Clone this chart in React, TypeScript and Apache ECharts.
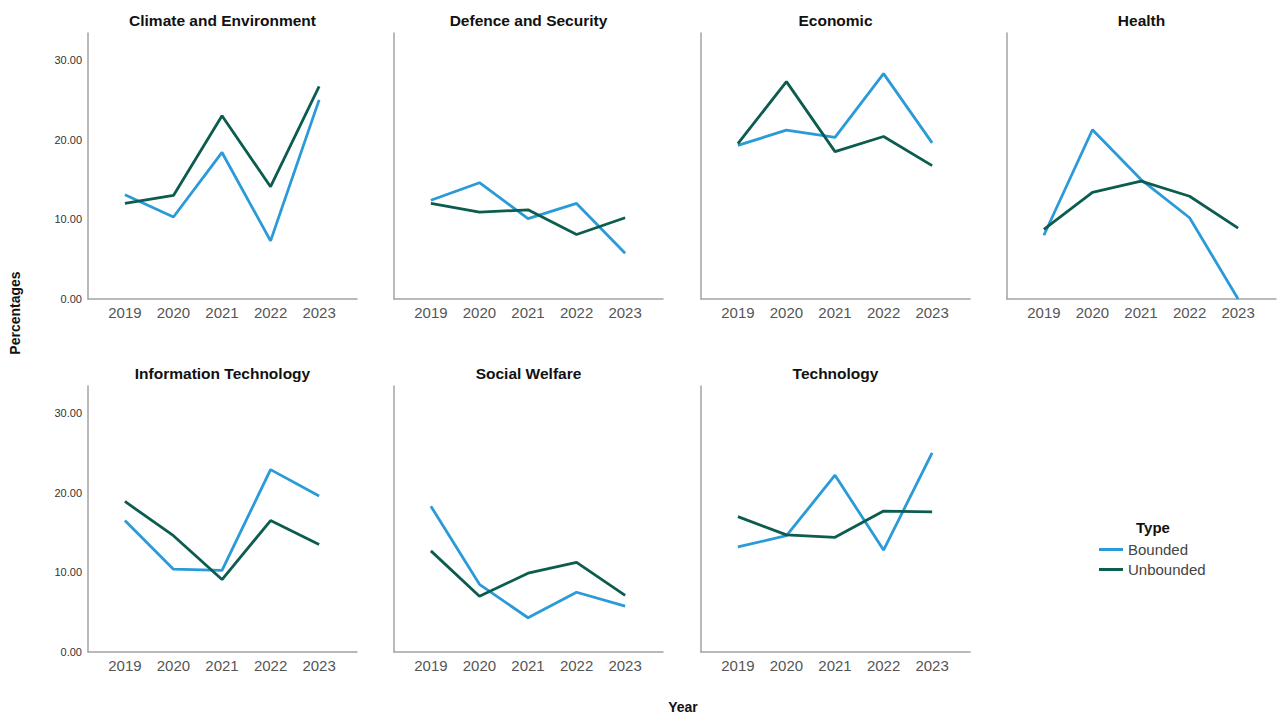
import React, { useEffect, useRef } from "react";
import * as echarts from "echarts";

const years = [2019, 2020, 2021, 2022, 2023];
const panelTitles = [
  "Climate and Environment",
  "Defence and Security",
  "Economic",
  "Health",
  "Information Technology",
  "Social Welfare",
  "Technology",
];
const bounded = [
  [13.1, 10.3, 18.4, 7.3, 25.0],
  [12.4, 14.6, 10.1, 12.0, 5.75],
  [19.3, 21.2, 20.3, 28.3, 19.6],
  [8.0, 21.25, 15.0, 10.2, 0.0],
  [16.5, 10.4, 10.25, 22.9, 19.6],
  [18.3, 8.5, 4.3, 7.5, 5.75],
  [13.2, 14.6, 22.2, 12.8, 25.0],
];
const unbounded = [
  [12.0, 13.0, 23.0, 14.1, 26.7],
  [12.0, 10.9, 11.2, 8.1, 10.2],
  [19.5, 27.3, 18.5, 20.4, 16.75],
  [8.75, 13.4, 14.8, 12.9, 8.9],
  [18.9, 14.6, 9.1, 16.5, 13.5],
  [12.7, 7.0, 9.9, 11.25, 7.1],
  [17.0, 14.7, 14.4, 17.7, 17.6],
];
const yTicks = [0, 10, 20, 30];
const seriesNames = ["Bounded", "Unbounded"];

const BLUE = "#2a9ad9";
const GREEN = "#0c5c4f";
const AXIS = "#a3a3a3";
const FONT = "Liberation Sans, Arial, sans-serif";

export default function App() {
  const ref = useRef<HTMLDivElement>(null);
  useEffect(() => {
    if (!ref.current) return;
    const chart = echarts.init(ref.current, undefined, { renderer: "svg" });
    const lefts = [88, 394, 701, 1007];
    const tops = [33, 386];
    const W = 269;
    const H = 266;
    const grids: any[] = [];
    const xAxes: any[] = [];
    const yAxes: any[] = [];
    const series: any[] = [];
    const graphics: any[] = [];
    panelTitles.forEach((t, i) => {
      const col = i % 4;
      const row = Math.floor(i / 4);
      const left = lefts[col];
      const top = tops[row];
      grids.push({ left, top, width: W, height: H, containLabel: false });
      xAxes.push({
        type: "value",
        gridIndex: i,
        min: 2018.24,
        max: 2023.78,
        splitLine: { show: false },
        axisTick: { show: false },
        axisLine: { show: true, onZero: false, lineStyle: { color: AXIS, width: 1.5 } },
        axisLabel: {
          customValues: years,
          formatter: (v: number) => String(v),
          fontSize: 15,
          color: "#555",
          margin: 6,
          fontFamily: FONT,
        },
      });
      yAxes.push({
        type: "value",
        gridIndex: i,
        min: 0,
        max: 33.4,
        interval: 10,
        splitLine: { show: false },
        axisTick: { show: false },
        axisLine: { show: true, lineStyle: { color: AXIS, width: 1.5 } },
        axisLabel: {
          show: col === 0,
          customValues: yTicks,
          formatter: (v: number) => (v % 10 === 0 ? v.toFixed(2) : ""),
          fontSize: 11,
          color: "#333",
          margin: 6,
          fontFamily: FONT,
        },
      });
      [bounded[i], unbounded[i]].forEach((vals, k) => {
        series.push({
          type: "line",
          name: seriesNames[k],
          xAxisIndex: i,
          yAxisIndex: i,
          symbol: "none",
          data: years.map((y, j) => [y, vals[j]]),
          lineStyle: { width: 2.8, color: k === 0 ? BLUE : GREEN },
          itemStyle: { color: k === 0 ? BLUE : GREEN },
        });
      });
      graphics.push({
        type: "text",
        x: left + W / 2,
        y: row === 0 ? 20 : 373,
        style: {
          text: t,
          textAlign: "center",
          textVerticalAlign: "middle",
          font: `bold 15.5px ${FONT}`,
          fill: "#111",
        },
      });
    });
    graphics.push({
      type: "text",
      x: 15,
      y: 313,
      rotation: Math.PI / 2,
      style: {
        text: "Percentages",
        textAlign: "center",
        textVerticalAlign: "middle",
        font: `bold 14px ${FONT}`,
        fill: "#111",
      },
    });
    graphics.push({
      type: "text",
      x: 683,
      y: 707,
      style: {
        text: "Year",
        textAlign: "center",
        textVerticalAlign: "middle",
        font: `bold 14px ${FONT}`,
        fill: "#111",
      },
    });
    graphics.push({
      type: "text",
      x: 1153,
      y: 527,
      style: {
        text: "Type",
        textAlign: "center",
        textVerticalAlign: "middle",
        font: `bold 15px ${FONT}`,
        fill: "#111",
      },
    });
    chart.setOption({
      animation: false,
      backgroundColor: "#ffffff",
      grid: grids,
      xAxis: xAxes,
      yAxis: yAxes,
      series,
      graphic: graphics,
      legend: {
        data: seriesNames,
        orient: "vertical",
        left: 1099,
        top: 542,
        itemWidth: 24,
        itemHeight: 3,
        itemGap: 5,
        icon: "rect",
        padding: 0,
        textStyle: { fontSize: 15, color: "#444", fontFamily: FONT },
      },
    });
    return () => chart.dispose();
  }, []);
  return (
    <div
      ref={ref}
      style={{ position: "fixed", left: 0, top: 0, width: 1282, height: 716 }}
    />
  );
}
